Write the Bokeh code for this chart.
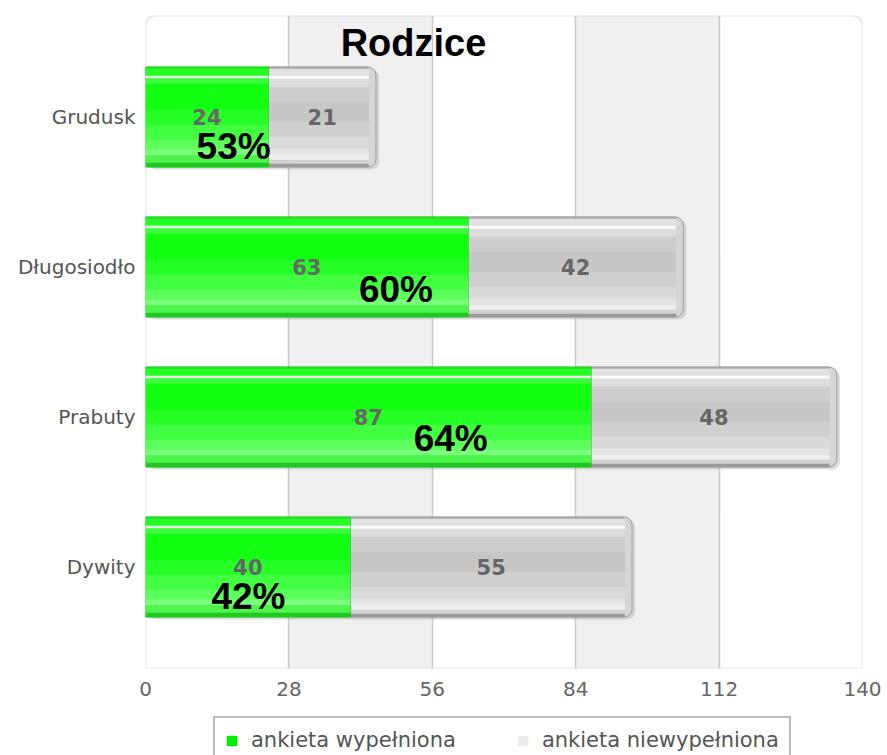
from bokeh.plotting import figure
from bokeh.layouts import column
from bokeh.models import (ColumnDataSource, FactorRange, Range1d, FixedTicker,
                          BoxAnnotation, Label, Legend, LegendItem)
from bokeh.core.properties import value
from bokeh.embed import file_html
from bokeh.resources import INLINE

# ---------------- data ----------------
title_text = "Rodzice"
categories = ["Grudusk", "Długosiodło", "Prabuty", "Dywity"]
filled = [24, 63, 87, 40]          # ankieta wypełniona
not_filled = [21, 42, 48, 55]      # ankieta niewypełniona
x_ticks = [0, 28, 56, 84, 112, 140]
series_names = ["ankieta wypełniona", "ankieta niewypełniona"]

# label anchors for the percentage texts (layout only)
pct_label_x = [17.2, 48.9, 59.6, 20.1]
pct_label_dy = [30, 23, 21, 29]

totals = [f + n for f, n in zip(filled, not_filled)]
pct_text = [f"{round(100 * f / t)}%" for f, t in zip(filled, totals)]

BAR_H = 0.667

# vertical shading profiles (fraction from top, fraction to bottom, colour)
green_profile = [
    (0.00, 0.02, "#2ad82a"), (0.02, 0.09, "#22ff22"), (0.09, 0.115, "#eaffea"),
    (0.115, 0.17, "#3cff3c"), (0.17, 0.43, "#12ff12"), (0.43, 0.58, "#26ff26"),
    (0.58, 0.73, "#42ff42"), (0.73, 0.83, "#5cff5c"), (0.83, 0.885, "#7cff7c"),
    (0.885, 0.96, "#4cf44c"), (0.96, 1.00, "#22c822"),
]
gray_profile = [
    (0.00, 0.02, "#a8a8a8"), (0.02, 0.09, "#e2e2e2"), (0.09, 0.12, "#fafafa"),
    (0.12, 0.20, "#dddddd"), (0.20, 0.35, "#cdcdcd"), (0.35, 0.55, "#c6c6c6"),
    (0.55, 0.70, "#cfcfcf"), (0.70, 0.82, "#dadada"), (0.82, 0.88, "#e4e4e4"),
    (0.88, 0.93, "#eeeeee"), (0.93, 0.97, "#d2d2d2"), (0.97, 1.00, "#9a9a9a"),
]


def band_source(profile, lefts, rights):
    ys, ls, rs, hs, cs = [], [], [], [], []
    for cat, l, r in zip(categories, lefts, rights):
        for a, b, c in profile:
            off = BAR_H / 2 - (a + b) / 2 * BAR_H
            ys.append((cat, off))
            ls.append(l)
            rs.append(r)
            hs.append((b - a) * BAR_H + 0.004)
            cs.append(c)
    return ColumnDataSource(dict(y=ys, left=ls, right=rs, h=hs, c=cs))


p = figure(
    y_range=FactorRange(factors=categories[::-1], range_padding=0.1765,
                        range_padding_units="absolute"),
    x_range=Range1d(0, 140),
    frame_width=717, frame_height=653,
    min_border_left=145, min_border_right=25, min_border_top=15, min_border_bottom=42,
    output_backend="svg", toolbar_location=None,
    background_fill_color="white", border_fill_color="white",
    outline_line_color=None,
)

# grid with alternating bands
p.xgrid.grid_line_color = "#c8c8c8"
p.xgrid.grid_line_width = 1.5
p.xgrid.band_fill_color = "#f0f0f0"
p.xgrid.band_fill_alpha = 1.0
p.ygrid.grid_line_color = None

# axes
p.xaxis.ticker = FixedTicker(ticks=x_ticks)
for ax in (p.xaxis, p.yaxis):
    ax.axis_line_color = None
    ax.major_tick_line_color = None
    ax.minor_tick_line_color = None
    ax.major_tick_out = 0
    ax.minor_tick_out = 0
    ax.major_label_text_font = "DejaVu Sans"
p.xaxis.major_label_text_font_size = "20px"
p.xaxis.major_label_text_color = "#666666"
p.xaxis.major_label_standoff = 13
p.yaxis.major_label_text_font_size = "20px"
p.yaxis.major_label_text_color = "#555555"
p.yaxis.major_label_standoff = 10

# shadows
shadow_src = ColumnDataSource(dict(
    y=[(c, -0.016) for c in categories], left=[0.4] * len(categories),
    right=[t + 0.6 for t in totals]))
p.hbar(y="y", left="left", right="right", height=BAR_H, source=shadow_src,
       fill_color="#9a9a9a", fill_alpha=0.35, line_color=None, border_radius=8)

# gray (not filled) segments
gray_src = ColumnDataSource(dict(y=categories, left=filled, right=totals))
p.hbar(y="y", left="left", right="right", height=BAR_H, source=gray_src,
       fill_color="#d6d6d6", line_color="#9c9c9c", line_width=1,
       border_radius=(0, 8, 8, 0))
p.hbar(y="y", left="left", right="right", height="h", fill_color="c",
       line_color=None,
       source=band_source(gray_profile, filled, [t - 1.4 for t in totals]))

# green (filled) segments
green_src = ColumnDataSource(dict(y=categories, left=[0] * len(categories), right=filled))
p.hbar(y="y", left="left", right="right", height=BAR_H, source=green_src,
       fill_color="#14ff14", line_color="#22cc22", line_width=1)
p.hbar(y="y", left="left", right="right", height="h", fill_color="c",
       line_color=None,
       source=band_source(green_profile, [0] * len(categories), filled))

# value labels
val_src = ColumnDataSource(dict(
    x=[f / 2 for f in filled] + [f + n / 2 for f, n in zip(filled, not_filled)],
    y=categories + categories,
    t=[str(v) for v in filled] + [str(v) for v in not_filled]))
p.text(x="x", y="y", text="t", source=val_src, text_align="center",
       text_baseline="middle", text_font=value("DejaVu Sans"),
       text_font_style="bold", text_font_size="21px", text_color="#666666")

# percentage labels
pct_src = ColumnDataSource(dict(x=pct_label_x, y=categories, t=pct_text, dy=pct_label_dy))
p.text(x="x", y="y", text="t", y_offset="dy", source=pct_src, text_align="center",
       text_baseline="middle", text_font=value("Liberation Sans"),
       text_font_style="bold", text_font_size="37px", text_color="black")

# frame border with rounded top corners
p.add_layout(BoxAnnotation(fill_alpha=0, line_color="#b4b4b4", line_width=2,
                           border_radius=(10, 10, 0, 0)))

# title inside the frame
p.add_layout(Label(x=268, y=626, x_units="screen", y_units="screen", text=title_text,
                   text_align="center", text_baseline="middle",
                   text_font="Liberation Sans", text_font_style="bold",
                   text_font_size="38px", text_color="black"))

# ---------------- legend strip (second figure) ----------------
# the legend renderers reuse the real segment data, kept far outside this strip's ranges
lp = figure(width=887, height=45, min_border=0, output_backend="svg",
            toolbar_location=None, x_axis_location=None, y_axis_location=None,
            x_range=Range1d(5000, 5010), y_range=FactorRange(factors=categories),
            outline_line_color=None, background_fill_color="white",
            border_fill_color="white")
lp.grid.visible = False
lg_green = lp.hbar(y="y", left="left", right="right", height=0.0005, source=green_src,
                   fill_color="#00ee00", line_color=None)
lg_gray = lp.hbar(y="y", left="left", right="right", height=0.0005, source=gray_src,
                  fill_color="#ebebeb", line_color=None)
leg = Legend(items=[LegendItem(label=series_names[0], renderers=[lg_green]),
                    LegendItem(label=series_names[1], renderers=[lg_gray])],
             orientation="horizontal", location=(68, -9),
             glyph_width=13, glyph_height=13, label_standoff=13, spacing=60,
             padding=10, margin=0,
             label_text_font="DejaVu Sans", label_text_font_size="21px",
             label_text_color="#555555", border_line_color="#777777",
             border_line_width=2, background_fill_color="white")
lp.add_layout(leg)

layout = column(p, lp, spacing=0)
open("out.html", "w").write(file_html(layout, INLINE))
